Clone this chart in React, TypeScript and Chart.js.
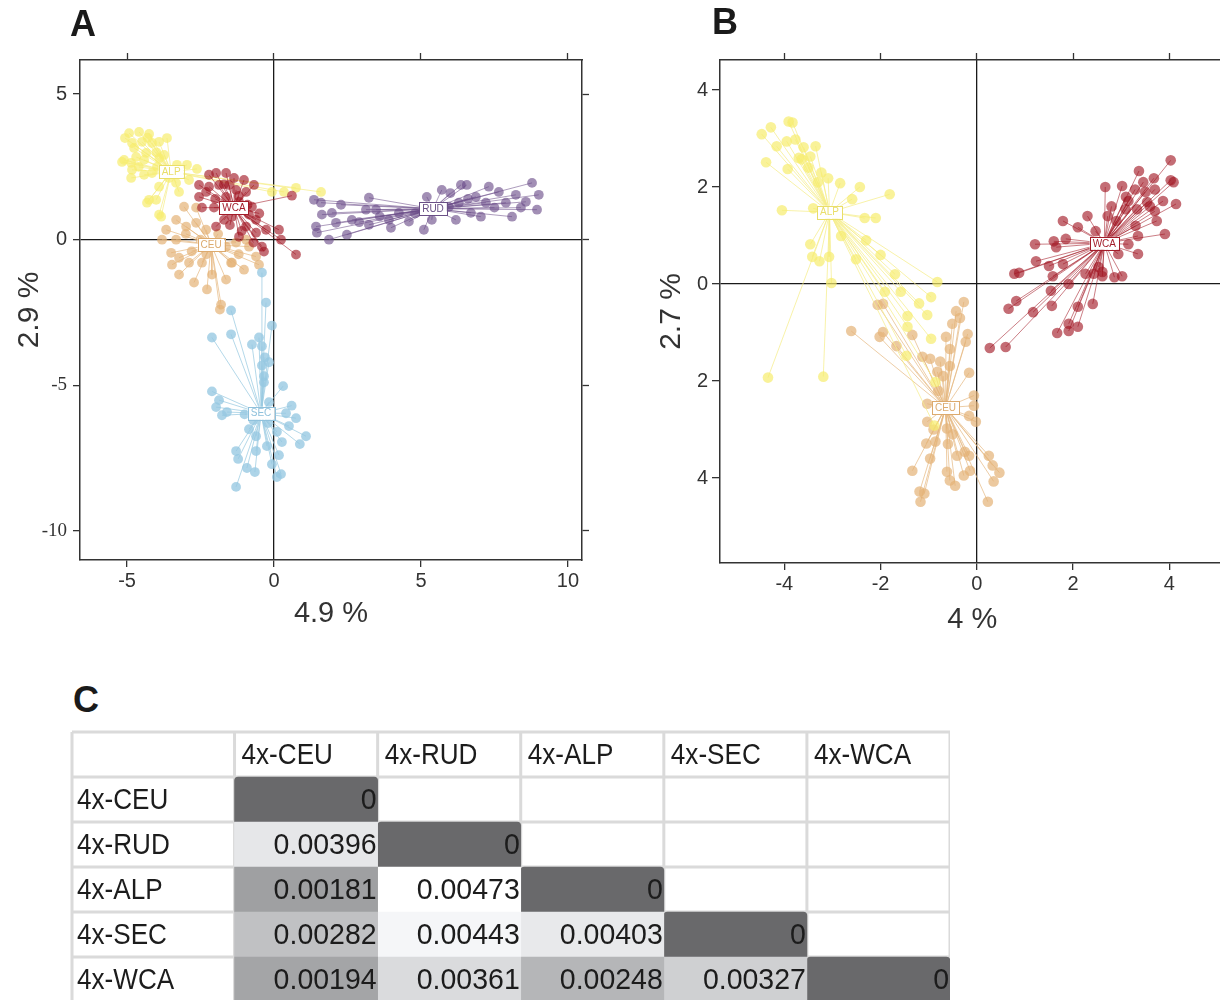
import React, { useEffect, useRef } from 'react';
import { Chart, registerables } from 'chart.js';
Chart.register(...registerables);

type P = [number, number];

// ---------------- Panel A data ----------------
const A_GROUPS = ['ALP', 'CEU', 'WCA', 'RUD', 'SEC'];
const A_CENTROIDS: P[] = [[-3.5, 2.33], [-2.14, -0.17], [-1.36, 1.1], [5.41, 1.06], [-0.44, -5.96]];
const A_ALP: P[] = [
  [-4.93, 3.66], [-4.59, 3.7], [-4.25, 3.63], [-3.64, 3.49], [-4.83, 3.32], [-4.49, 3.36], [-4.15, 3.32], [-3.91, 3.36],
  [-5.1, 2.74], [-4.86, 2.64], [-4.69, 2.84], [-4.35, 2.98], [-4.83, 2.4], [-4.86, 2.12], [-4.42, 2.23], [-4.15, 2.29],
  [-3.98, 2.5], [-3.3, 2.57], [-2.96, 2.57], [-2.62, 2.43], [-4.25, 1.37], [-4.01, 1.37], [-3.84, 0.79], [-3.91, 1.82],
  [-3.23, 1.64], [-3.33, 1.95], [-0.07, 1.64], [0.34, 1.64], [0.75, 1.78], [1.6, 1.64], [-5.17, 2.67], [-4.32, 1.27],
  [-5.07, 3.49], [-4.76, 3.15], [-4.42, 2.74], [-3.74, 2.91], [-3.57, 2.12], [-2.89, 2.05], [-3.91, 0.86], [-4.0, 3.0],
  [-4.6, 2.5], [-3.9, 2.8], [-4.3, 3.5],
];
const A_CEU: P[] = [
  [-3.06, 1.13], [-2.65, 1.1], [-3.33, 0.68], [-3.67, 0.34], [-3.81, 0.0], [-3.33, 0.0], [-2.99, 0.45], [-2.65, 0.58],
  [-2.31, 0.34], [-3.5, -0.45], [-3.23, -0.62], [-3.47, -0.86], [-2.89, -0.79], [-2.45, -0.79], [-1.43, -0.79], [-1.63, -0.24],
  [-1.29, -0.1], [-0.85, -0.24], [-0.61, -0.58], [-0.95, 0.0], [-1.8, -2.23], [-1.84, -2.4], [-1.63, -1.37], [-1.46, -0.79],
  [-3.23, -1.2], [-2.72, -1.47], [-2.28, -1.71], [-2.11, -1.2], [-1.02, -1.03], [-0.51, -0.86], [-2.5, 0.0], [-2.8, -0.4],
  [-1.9, 0.2], [-2.3, -0.5], [-3.0, 0.2], [-1.2, -0.5],
];
const A_WCA: P[] = [
  [-2.21, 2.23], [-1.97, 2.29], [-1.63, 2.29], [-1.36, 2.12], [-2.55, 1.88], [-2.21, 1.82], [-1.87, 1.88], [-2.55, 1.47],
  [-2.31, 1.64], [-1.29, 1.71], [-0.95, 1.64], [-1.19, 1.3], [-2.45, 1.1], [-2.04, 1.1], [-1.7, 0.68], [-1.97, 0.45],
  [-0.61, 0.68], [-0.27, 0.34], [0.17, 0.34], [0.24, 0.0], [-0.61, 0.24], [-0.41, -0.24], [-0.34, -0.41], [0.75, -0.51],
  [0.61, 1.51], [-0.75, 1.13], [-0.95, 0.45], [-1.19, 0.1], [-1.43, 0.79], [-1.63, 1.47], [-1.02, 2.05], [-0.68, 1.88],
  [-1.53, 1.88], [-0.85, 0.86], [-1.7, 1.9], [-1.2, 1.5], [-0.9, 1.2], [-1.5, 0.5], [-1.1, 0.3], [-0.5, 0.9],
  [-2.0, 1.4], [-0.7, -0.1],
];
const A_RUD: P[] = [
  [1.36, 1.37], [1.6, 1.27], [1.63, 0.86], [1.43, 0.45], [1.46, 0.24], [1.87, 0.0], [2.48, 0.17], [2.11, 0.58],
  [2.28, 1.2], [3.23, 1.44], [2.65, 0.68], [3.23, 0.51], [3.91, 0.68], [3.98, 0.41], [4.59, 0.62], [5.1, 0.34],
  [5.2, 1.47], [5.71, 1.71], [6.36, 1.88], [6.56, 1.88], [6.19, 0.68], [6.7, 0.92], [7.04, 0.79], [7.31, 1.82],
  [7.65, 1.64], [8.1, 0.79], [8.78, 1.95], [9.01, 1.54], [8.95, 1.03], [8.57, 1.3], [8.23, 1.54], [7.89, 1.27],
  [7.21, 1.27], [6.87, 1.47], [5.95, 1.13], [6.29, 1.27], [5.37, 0.68], [3.47, 1.03], [4.25, 0.92], [3.13, 1.03],
  [1.97, 0.92], [6.0, 1.6], [6.6, 1.4], [7.5, 1.1], [8.4, 1.1], [4.8, 0.9], [3.6, 0.8], [2.9, 0.6],
];
const A_SEC: P[] = [
  [-0.41, -1.13], [-0.27, -2.16], [-1.46, -2.43], [-0.07, -2.95], [-2.11, -3.36], [-1.46, -3.25], [-0.51, -3.36], [-0.75, -3.6],
  [-0.41, -3.66], [-0.31, -4.04], [-0.17, -4.21], [-0.41, -4.32], [-0.34, -4.69], [-0.34, -4.9], [0.31, -5.03], [-2.11, -5.21],
  [-1.87, -5.51], [-1.97, -5.75], [-1.77, -6.03], [-1.6, -5.92], [-0.17, -5.58], [0.41, -5.96], [0.75, -6.13], [1.09, -6.75],
  [0.88, -7.02], [0.51, -6.4], [0.27, -6.95], [0.17, -7.4], [0.24, -8.05], [0.1, -8.15], [-0.07, -7.71], [-0.61, -7.26],
  [-0.65, -7.98], [-0.92, -7.84], [-1.22, -7.53], [-1.29, -7.26], [-1.29, -8.49], [-0.85, -6.51], [-0.61, -6.75], [-0.24, -7.09],
  [-0.2, -6.3], [-0.7, -6.2], [0.1, -6.6], [-1.0, -6.0], [0.6, -5.7],
];
const A_POINTS = [A_ALP, A_CEU, A_WCA, A_RUD, A_SEC];
const A_X_TICKS = [-5, 0, 5, 10];
const A_Y_TICKS = [5, 0, -5, -10];
const A_X_TITLE = '4.9 %';
const A_Y_TITLE = '2.9 %';

// ---------------- Panel B data ----------------
const B_GROUPS = ['CEU', 'ALP', 'WCA'];
const B_CENTROIDS: P[] = [[-0.65, -2.55], [-3.06, 1.48], [2.65, 0.84]];
const B_CEU: P[] = [
  [-2.61, -0.97], [-2.06, -0.43], [-1.95, -0.41], [-2.02, -1.09], [-1.95, -0.99], [-1.67, -1.28], [-1.34, -1.05], [-1.13, -1.5],
  [-0.97, -1.54], [-0.76, -1.6], [-0.64, -1.09], [-0.56, -1.34], [-0.51, -0.82], [-0.43, -0.56], [-0.35, -0.7], [-0.27, -0.37],
  [-0.19, -1.03], [-0.23, -1.19], [-0.16, -1.83], [-0.06, -2.3], [-0.06, -2.51], [-0.02, -2.84], [-0.16, -2.72], [-1.03, -2.47],
  [-1.03, -2.84], [-1.05, -3.29], [-0.86, -3.25], [-0.97, -3.6], [-1.34, -3.85], [-1.19, -4.28], [-1.09, -4.32], [-1.17, -4.49],
  [-0.62, -3.87], [-0.56, -4.05], [-0.45, -4.16], [-0.27, -3.95], [-0.14, -3.85], [-0.41, -3.54], [-0.25, -3.46], [-0.16, -3.54],
  [0.25, -3.54], [0.33, -3.74], [0.47, -3.89], [0.35, -4.07], [0.23, -4.49], [-0.62, -2.98], [-0.56, -1.69], [-0.82, -1.81],
  [-0.7, -1.9], [-0.8, -2.2], [-0.5, -3.1], [-0.6, -3.3], [-0.9, -3.0],
];
const B_ALP: P[] = [
  [-4.47, 3.09], [-4.28, 3.23], [-3.91, 3.35], [-3.83, 3.33], [-4.16, 2.84], [-3.95, 2.94], [-3.77, 2.98], [-3.6, 2.82],
  [-3.35, 2.84], [-4.38, 2.51], [-3.93, 2.37], [-3.64, 2.57], [-3.46, 2.63], [-3.23, 2.3], [-3.09, 2.18], [-2.84, 2.08],
  [-2.43, 2.0], [-1.81, 1.85], [-2.59, 1.75], [-4.05, 1.52], [-3.4, 1.56], [-2.33, 1.36], [-2.1, 1.36], [-3.46, 0.82],
  [-3.42, 0.56], [-3.27, 0.47], [-3.07, 0.56], [-3.02, 0.02], [-2.82, 0.99], [-2.51, 0.51], [-0.82, 0.04], [-0.95, -0.27],
  [-1.03, -0.64], [-1.58, -0.16], [-1.91, -0.16], [-0.95, -1.13], [-1.44, -0.66], [-1.44, -0.88], [-1.46, -1.48], [-0.86, -2.02],
  [-0.88, -2.92], [-4.34, -1.93], [-3.19, -1.91], [-3.7, 2.6], [-3.5, 2.4], [-3.3, 2.1], [-2.3, 0.9], [-2.0, 0.6],
  [-1.7, 0.2], [-1.2, -0.4],
];
const B_WCA: P[] = [
  [4.03, 2.55], [3.37, 2.33], [3.68, 2.18], [4.03, 2.14], [4.09, 2.1], [3.46, 2.1], [3.02, 2.02], [2.67, 2.0],
  [3.29, 1.95], [3.7, 1.95], [3.87, 1.71], [4.14, 1.65], [3.54, 1.69], [3.15, 1.71], [3.09, 1.54], [3.33, 1.54],
  [3.7, 1.5], [3.74, 1.3], [3.91, 1.03], [3.35, 0.99], [3.15, 0.82], [3.35, 0.62], [2.94, 0.62], [2.3, 1.4],
  [2.72, 1.4], [2.47, 1.09], [2.1, 1.17], [1.79, 1.3], [1.85, 0.93], [1.6, 0.88], [1.21, 0.82], [1.65, 0.76],
  [1.23, 0.47], [1.5, 0.37], [1.79, 0.41], [0.78, 0.21], [0.88, 0.23], [1.58, 0.16], [1.91, 0.0], [2.26, 0.21],
  [2.43, 0.21], [2.61, 0.16], [2.86, 0.14], [3.02, 0.16], [1.54, -0.14], [0.82, -0.35], [0.66, -0.51], [1.17, -0.58],
  [1.56, -0.45], [2.41, -0.41], [2.1, -0.47], [1.91, -0.82], [2.1, -0.88], [1.67, -1.01], [1.91, -0.97], [0.27, -1.32],
  [0.6, -1.3], [2.61, 0.25], [2.53, 0.35], [3.1, 1.8], [3.5, 1.9], [2.9, 1.3], [3.3, 1.2], [2.8, 1.6], [3.6, 1.6],
];
const B_POINTS = [B_CEU, B_ALP, B_WCA];
const B_X_TICKS = [-4, -2, 0, 2, 4];
const B_Y_TICKS = [4, 2, 0, -2, -4];
const B_X_TITLE = '4 %';
const B_Y_TITLE = '2.7 %';

// ---------------- Panel C data ----------------
const C_GROUPS = ['4x-CEU', '4x-RUD', '4x-ALP', '4x-SEC', '4x-WCA'];
const C_ROW_CEU = [0];
const C_ROW_RUD = [0.00396, 0];
const C_ROW_ALP = [0.00181, 0.00473, 0];
const C_ROW_SEC = [0.00282, 0.00443, 0.00403, 0];
const C_ROW_WCA = [0.00194, 0.00361, 0.00248, 0.00327, 0];
const C_ROWS = [C_ROW_CEU, C_ROW_RUD, C_ROW_ALP, C_ROW_SEC, C_ROW_WCA];

// ---------------- styles ----------------
const STYLE: Record<string, { point: string; line: string; label: string }> = {
  ALP: { point: 'rgba(246,236,110,0.7)', line: 'rgba(246,238,140,0.75)', label: '#e9de6a' },
  CEU: { point: 'rgba(228,178,118,0.7)', line: 'rgba(230,184,128,0.7)', label: '#dcaa6e' },
  WCA: { point: 'rgba(160,20,32,0.62)', line: 'rgba(160,20,32,0.55)', label: '#a31d2a' },
  RUD: { point: 'rgba(105,75,135,0.62)', line: 'rgba(105,75,135,0.55)', label: '#6a4f86' },
  SEC: { point: 'rgba(150,200,225,0.78)', line: 'rgba(155,203,226,0.75)', label: '#8fc1dc' },
};
const AXIS = '#333333';
const SANS = '"Liberation Sans", Arial, sans-serif';

const setTicks = (vals: number[]) => (scale: any) => {
  scale.ticks = vals.map((v) => ({ value: v }));
};
const zeroLine = (ctx: any) => (ctx.tick && ctx.tick.value === 0 ? '#1a1a1a' : 'rgba(0,0,0,0)');

function scatterConfig(o: any) {
  const datasets: any[] = [];
  const n = o.groups.length * 2;
  let k = 0;
  o.groups.forEach((g: string, gi: number) => {
    const c = o.centroids[gi];
    const pts: P[] = o.points[gi];
    const lineData: any[] = [];
    pts.forEach((p) => {
      lineData.push({ x: c[0], y: c[1] }, { x: p[0], y: p[1] }, { x: p[0], y: null });
    });
    datasets.push({
      data: lineData, showLine: true, spanGaps: false, pointRadius: 0, borderColor: STYLE[g].line,
      borderWidth: 1, order: n - k,
    });
    k++;
    datasets.push({
      data: pts.map((p) => ({ x: p[0], y: p[1] })), pointRadius: o.radius, pointBackgroundColor: STYLE[g].point,
      backgroundColor: STYLE[g].point, pointBorderWidth: 0, borderWidth: 0, order: n - k,
    });
    k++;
  });
  const labelPlugin = {
    id: 'centroidLabels',
    afterDatasetsDraw(chart: any) {
      const { ctx } = chart;
      const xs = chart.scales.x;
      const ys = chart.scales.y;
      ctx.save();
      ctx.font = `${o.labelSize}px ${SANS}`;
      ctx.textAlign = 'center';
      ctx.textBaseline = 'middle';
      o.groups.forEach((g: string, gi: number) => {
        const c = o.centroids[gi];
        const px = xs.getPixelForValue(c[0]);
        const py = ys.getPixelForValue(c[1]);
        const w = ctx.measureText(g).width + 6;
        const h = o.labelSize + 3;
        ctx.fillStyle = '#ffffff';
        ctx.fillRect(px - w / 2, py - h / 2, w, h);
        ctx.strokeStyle = STYLE[g].label;
        ctx.lineWidth = 1;
        ctx.strokeRect(Math.round(px - w / 2) + 0.5, Math.round(py - h / 2) + 0.5, Math.round(w), Math.round(h));
        ctx.fillStyle = STYLE[g].label;
        ctx.fillText(g, px, py + 0.5);
      });
      ctx.restore();
    },
  };
  const scales: any = {
    x: {
      type: 'linear', position: 'bottom', min: o.xMin, max: o.xMax,
      afterBuildTicks: setTicks(o.xTicks),
      afterFit: (s: any) => { s.height = o.bottomH; },
      ticks: { color: AXIS, font: { family: SANS, size: 20 }, padding: 2, maxRotation: 0, autoSkip: false, callback: (v: number) => String(v) },
      grid: { color: zeroLine, lineWidth: 1.3, tickColor: AXIS, tickLength: 7, tickWidth: 1.3 },
      border: { display: true, color: AXIS, width: 1.5 },
      title: { display: true, text: o.xTitle, color: AXIS, font: { family: SANS, size: 29 }, padding: { top: 0, bottom: o.xTitlePad } },
    },
    y: {
      type: 'linear', position: 'left', min: o.yMin, max: o.yMax,
      afterBuildTicks: setTicks(o.yTicks),
      afterFit: (s: any) => { s.width = o.leftW; },
      ticks: { color: AXIS, font: o.yTickFont, padding: o.yTickPad, autoSkip: false, callback: o.yTickLabel },
      grid: { color: zeroLine, lineWidth: 1.3, tickColor: AXIS, tickLength: o.yTickLen, tickWidth: 1.3 },
      border: { display: true, color: AXIS, width: 1.5 },
      title: { display: true, text: o.yTitle, color: AXIS, font: { family: SANS, size: 30 }, padding: { top: o.yTitlePad, bottom: 0 } },
    },
    x2: {
      type: 'linear', position: 'top', min: o.xMin, max: o.xMax,
      afterBuildTicks: setTicks(o.xTicks),
      afterFit: (s: any) => { s.height = o.topH; },
      ticks: { display: false },
      grid: { drawOnChartArea: false, tickColor: AXIS, tickLength: 7, tickWidth: 1.3 },
      border: { display: true, color: AXIS, width: 1.5 },
    },
  };
  if (o.rightW) {
    scales.y2 = {
      type: 'linear', position: 'right', min: o.yMin, max: o.yMax,
      afterBuildTicks: setTicks(o.yTicks),
      afterFit: (s: any) => { s.width = o.rightW; },
      ticks: { display: false },
      grid: { drawOnChartArea: false, tickColor: AXIS, tickLength: 7, tickWidth: 1.3 },
      border: { display: true, color: AXIS, width: 1.5 },
    };
  }
  return {
    type: 'scatter',
    data: { datasets },
    options: {
      responsive: false, maintainAspectRatio: false, animation: false, events: [],
      layout: { padding: 0 },
      plugins: { legend: { display: false }, tooltip: { enabled: false } },
      scales,
    },
    plugins: [labelPlugin],
  } as any;
}

function grayFor(v: number, maxV: number) {
  if (v === 0) return '#69696b';
  const t = v / maxV;
  const g = Math.round(100 + 155 * t);
  return `rgb(${g},${Math.min(255, g + 1)},${Math.min(255, g + 3)})`;
}

function tableConfig() {
  const maxV = Math.max(...C_ROWS.flat());
  const LEFT = -1.136;
  const labels = ['', ...C_GROUPS];
  const datasets = C_GROUPS.map((_, j) => ({
    data: labels.map((__, i) => (i >= 1 && i - 1 >= j ? [j, j + 1] : null)),
    backgroundColor: labels.map((__, i) => (i >= 1 && i - 1 >= j ? grayFor(C_ROWS[i - 1][j], maxV) : 'rgba(0,0,0,0)')),
    borderWidth: 0,
    borderRadius: labels.map((__, i) => (i >= 1 && i - 1 === j ? { topLeft: 4, topRight: 4, bottomLeft: 0, bottomRight: 0 } : 0)),
    borderSkipped: false,
    barPercentage: 1,
    categoryPercentage: 1,
    grouped: false,
  }));
  const drawText = (ctx: any, text: string, x: number, y: number, align: string, sx: number) => {
    ctx.save();
    ctx.translate(x, y);
    ctx.scale(sx, 1);
    ctx.textAlign = align;
    ctx.fillText(text, 0, 0);
    ctx.restore();
  };
  const tablePlugin = {
    id: 'tableDraw',
    beforeDatasetsDraw(chart: any) {
      const { ctx } = chart;
      const xs = chart.scales.x;
      const ys = chart.scales.y;
      const half = (ys.getPixelForValue(1) - ys.getPixelForValue(0)) / 2;
      const top = ys.getPixelForValue(0) - half;
      const bottom = ys.getPixelForValue(labels.length - 1) + half;
      ctx.save();
      ctx.fillStyle = '#ffffff';
      ctx.fillRect(xs.getPixelForValue(LEFT), top, xs.getPixelForValue(5) - xs.getPixelForValue(LEFT), bottom - top);
      ctx.strokeStyle = '#dadada';
      ctx.lineWidth = 3;
      [LEFT, 0, 1, 2, 3, 4, 5].forEach((v) => {
        const x = xs.getPixelForValue(v);
        ctx.beginPath();
        ctx.moveTo(x, top);
        ctx.lineTo(x, bottom);
        ctx.stroke();
      });
      for (let i = 0; i <= labels.length; i++) {
        const y = top + i * 2 * half;
        ctx.beginPath();
        ctx.moveTo(xs.getPixelForValue(LEFT), y);
        ctx.lineTo(xs.getPixelForValue(5), y);
        ctx.stroke();
      }
      ctx.restore();
    },
    afterDatasetsDraw(chart: any) {
      const { ctx } = chart;
      const xs = chart.scales.x;
      const ys = chart.scales.y;
      ctx.save();
      ctx.fillStyle = '#1c1c1c';
      ctx.textBaseline = 'middle';
      ctx.font = `30px ${SANS}`;
      C_GROUPS.forEach((g, j) => {
        drawText(ctx, g, xs.getPixelForValue(j) + 7, ys.getPixelForValue(0) + 1, 'left', 0.87);
        drawText(ctx, g, xs.getPixelForValue(LEFT) + 5, ys.getPixelForValue(j + 1) + 1, 'left', 0.87);
      });
      C_ROWS.forEach((row, i) => {
        row.forEach((v, j) => {
          drawText(ctx, String(v), xs.getPixelForValue(j + 1) - 1, ys.getPixelForValue(i + 1) + 1, 'right', 0.95);
        });
      });
      ctx.restore();
    },
  };
  return {
    type: 'bar',
    data: { labels, datasets },
    options: {
      indexAxis: 'y',
      responsive: false, maintainAspectRatio: false, animation: false, events: [],
      layout: { padding: { left: 2, top: 2, right: 0, bottom: 0 } },
      plugins: { legend: { display: false }, tooltip: { enabled: false } },
      scales: {
        x: { type: 'linear', min: LEFT, max: 5, display: false },
        y: { type: 'category', display: false, offset: true },
      },
    },
    plugins: [tablePlugin],
  } as any;
}

const configA = () =>
  scatterConfig({
    groups: A_GROUPS, centroids: A_CENTROIDS, points: A_POINTS,
    xMin: -6.6, xMax: 10.48, yMin: -11.0, yMax: 6.17,
    xTicks: A_X_TICKS, yTicks: A_Y_TICKS, xTitle: A_X_TITLE, yTitle: A_Y_TITLE,
    leftW: 80, rightW: 18, topH: 60, bottomH: 80, xTitlePad: 9, yTitlePad: 12,
    yTickLen: 7, yTickPad: 6,
    yTickFont: (ctx: any) =>
      ctx.tick && ctx.tick.value < 0
        ? { family: '"Liberation Serif", "Times New Roman", serif', size: 19 }
        : { family: SANS, size: 20 },
    yTickLabel: (v: number) => String(v),
    radius: 4.9, labelSize: 10,
  });

const configB = () =>
  scatterConfig({
    groups: B_GROUPS, centroids: B_CENTROIDS, points: B_POINTS,
    xMin: -5.337, xMax: 5.152, yMin: -5.753, yMax: 4.619,
    xTicks: B_X_TICKS, yTicks: B_Y_TICKS, xTitle: B_X_TITLE, yTitle: B_Y_TITLE,
    leftW: 80, rightW: 0, topH: 60, bottomH: 77, xTitlePad: 3, yTitlePad: 14,
    yTickLen: 8, yTickPad: 4,
    yTickFont: { family: SANS, size: 20 },
    yTickLabel: (v: number) => String(Math.abs(v)),
    radius: 5.3, labelSize: 10,
  });

const letter: React.CSSProperties = {
  position: 'absolute', font: `bold 36px ${SANS}`, color: '#1a1a1a', lineHeight: 'normal',
};

export default function App() {
  const aRef = useRef<HTMLCanvasElement>(null);
  const bRef = useRef<HTMLCanvasElement>(null);
  const cRef = useRef<HTMLCanvasElement>(null);
  useEffect(() => {
    const charts = [
      new Chart(aRef.current as HTMLCanvasElement, configA()),
      new Chart(bRef.current as HTMLCanvasElement, configB()),
      new Chart(cRef.current as HTMLCanvasElement, tableConfig()),
    ];
    return () => charts.forEach((c) => c.destroy());
  }, []);
  return (
    <div style={{ position: 'absolute', left: 0, top: 0, width: 1220, height: 1000, overflow: 'hidden', background: '#ffffff' }}>
      <canvas ref={aRef} width={600} height={640} style={{ position: 'absolute', left: 0, top: 0, width: 600, height: 640 }} />
      <canvas ref={bRef} width={590} height={640} style={{ position: 'absolute', left: 640, top: 0, width: 590, height: 640 }} />
      <canvas ref={cRef} width={880} height={272} style={{ position: 'absolute', left: 70, top: 730, width: 880, height: 272 }} />
      <div style={{ ...letter, left: 70, top: 3 }}>A</div>
      <div style={{ ...letter, left: 712, top: 1 }}>B</div>
      <div style={{ ...letter, left: 73, top: 679 }}>C</div>
    </div>
  );
}
